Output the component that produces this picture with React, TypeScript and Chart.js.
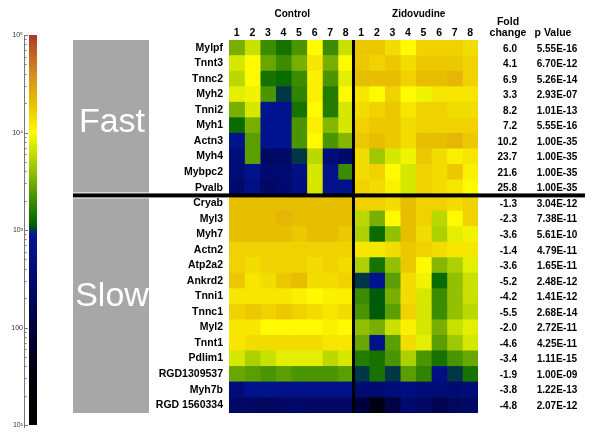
import React, { useEffect, useRef } from 'react';
import { Chart, registerables } from 'chart.js';

Chart.register(...registerables);

const genes = ['Mylpf', 'Tnnt3', 'Tnnc2', 'Myh2', 'Tnni2', 'Myh1', 'Actn3', 'Myh4', 'Mybpc2', 'Pvalb',
  'Cryab', 'Myl3', 'Myh7', 'Actn2', 'Atp2a2', 'Ankrd2', 'Tnni1', 'Tnnc1', 'Myl2', 'Tnnt1', 'Pdlim1',
  'RGD1309537', 'Myh7b', 'RGD 1560334'];

const controlColumns = ['1', '2', '3', '4', '5', '6', '7', '8'];
const zidovudineColumns = ['1', '2', '3', '4', '5', '6', '7', '8'];

// log10 expression, one row per gene
const controlLog10 = [
  [3.5, 3.8, 3.3, 3.15, 3.35, 4.0, 3.3, 3.8],
  [3.85, 4.0, 3.45, 3.3, 3.5, 4.1, 3.5, 4.0],
  [3.75, 4.0, 3.15, 3.1, 3.3, 4.05, 3.35, 3.9],
  [3.9, 3.95, 3.35, 3.0, 3.25, 4.05, 3.2, 4.0],
  [3.5, 3.85, 2.9, 2.85, 3.15, 4.0, 3.2, 3.85],
  [3.1, 3.5, 2.85, 2.85, 3.35, 4.05, 3.55, 3.85],
  [2.85, 3.4, 2.85, 2.85, 3.35, 4.0, 3.35, 3.55],
  [2.6, 3.4, 2.4, 2.45, 3.0, 3.75, 2.6, 2.5],
  [2.6, 2.8, 2.5, 2.55, 2.75, 3.85, 2.8, 3.3],
  [2.5, 2.75, 2.4, 2.5, 2.7, 3.85, 2.8, 2.8],
  [4.3, 4.3, 4.3, 4.3, 4.3, 4.3, 4.3, 4.3],
  [4.3, 4.3, 4.3, 4.35, 4.3, 4.3, 4.3, 4.3],
  [4.3, 4.3, 4.3, 4.3, 4.25, 4.3, 4.3, 4.25],
  [4.2, 4.2, 4.2, 4.2, 4.2, 4.2, 4.2, 4.2],
  [4.2, 4.15, 4.2, 4.2, 4.2, 4.15, 4.2, 4.15],
  [4.25, 4.1, 4.15, 4.25, 4.3, 4.15, 4.15, 4.2],
  [4.1, 4.1, 4.1, 4.1, 4.05, 4.0, 4.05, 4.05],
  [4.2, 4.25, 4.2, 4.25, 4.2, 4.15, 4.1, 4.15],
  [4.1, 4.1, 4.0, 4.0, 4.0, 4.0, 4.05, 4.0],
  [4.1, 4.15, 4.15, 4.15, 4.15, 4.15, 4.1, 4.1],
  [3.85, 3.7, 3.8, 3.9, 3.9, 3.9, 3.75, 3.85],
  [3.45, 3.4, 3.35, 3.4, 3.35, 3.35, 3.35, 3.4],
  [2.6, 2.85, 2.8, 2.8, 2.8, 2.8, 2.8, 2.8],
  [2.4, 2.4, 2.35, 2.4, 2.45, 2.4, 2.4, 2.4],
];

const zidovudineLog10 = [
  [4.25, 4.25, 4.15, 4.0, 4.2, 4.2, 4.2, 4.15],
  [4.25, 4.2, 4.25, 4.15, 4.25, 4.25, 4.25, 4.2],
  [4.3, 4.3, 4.3, 4.2, 4.3, 4.3, 4.35, 4.2],
  [4.1, 4.0, 4.2, 4.0, 3.95, 4.1, 4.1, 4.1],
  [4.15, 4.2, 4.25, 4.1, 4.2, 4.2, 4.15, 4.15],
  [4.2, 4.25, 4.25, 4.15, 4.2, 4.2, 4.2, 4.2],
  [4.25, 4.3, 4.25, 4.15, 4.3, 4.3, 4.35, 4.25],
  [4.15, 3.65, 3.85, 3.95, 4.25, 4.15, 4.05, 4.1],
  [4.15, 4.2, 4.0, 3.85, 4.2, 4.15, 4.25, 4.05],
  [4.2, 4.15, 4.05, 3.85, 4.2, 4.15, 4.1, 4.0],
  [4.2, 4.2, 4.15, 4.3, 4.2, 4.2, 4.15, 4.2],
  [3.75, 3.5, 4.0, 4.3, 4.2, 3.75, 4.0, 4.2],
  [3.7, 3.1, 3.6, 4.3, 4.15, 3.7, 3.9, 3.95],
  [4.1, 4.1, 4.15, 4.25, 4.2, 4.15, 4.1, 4.1],
  [3.7, 3.15, 3.6, 4.25, 4.0, 3.55, 3.7, 3.9],
  [3.0, 2.85, 3.4, 4.15, 3.95, 3.1, 3.6, 3.8],
  [3.3, 3.05, 3.5, 4.15, 3.85, 3.3, 3.6, 3.8],
  [3.35, 3.05, 3.4, 4.2, 3.85, 3.3, 3.6, 3.75],
  [3.6, 3.5, 3.8, 4.05, 3.85, 3.5, 3.8, 3.9],
  [3.45, 2.8, 3.4, 4.15, 3.9, 3.4, 3.65, 3.85],
  [3.2, 3.15, 3.35, 3.7, 3.35, 3.15, 3.35, 3.45],
  [3.0, 3.15, 3.0, 3.4, 3.25, 2.75, 3.0, 3.15],
  [2.55, 2.55, 2.6, 2.7, 2.6, 2.6, 2.55, 2.6],
  [2.0, 1.6, 2.1, 2.5, 2.4, 2.2, 2.35, 2.4],
];

const foldChange = [6.0, 4.1, 6.9, 3.3, 8.2, 7.2, 10.2, 23.7, 21.6, 25.8,
  -1.3, -2.3, -3.6, -1.4, -3.6, -5.2, -4.2, -5.5, -2.0, -4.6, -3.4, -1.9, -3.8, -4.8];

const pValues = ['5.55E-16', '6.70E-12', '5.26E-14', '2.93E-07', '1.01E-13', '5.55E-16', '1.00E-35',
  '1.00E-35', '1.00E-35', '1.00E-35', '3.04E-12', '7.38E-11', '5.61E-10', '4.79E-11', '1.65E-11',
  '2.48E-12', '1.41E-12', '2.68E-14', '2.72E-11', '4.25E-11', '1.11E-15', '1.00E-09', '1.22E-13', '2.07E-12'];

const groupNames = ['Control', 'Zidovudine'];
const sectionNames = ['Fast', 'Slow'];
const fastCount = 10;

const colorbarDecades = [5, 4, 3, 2, 1];
const colorbarLabels = ['10\u2075', '10\u2074', '10\u00b3', '100', '10\u00b9'];
const colorbarMin = 1;
const colorbarMax = 5;

const colorStops: [number, number, number, number][] = [
  [1.0, 0, 0, 0],
  [1.5, 0, 0, 10],
  [2.0, 0, 0, 60],
  [2.5, 0, 10, 110],
  [2.95, 0, 20, 150],
  [3.0, 0, 55, 70],
  [3.06, 0, 100, 0],
  [3.3, 60, 140, 0],
  [3.5, 120, 175, 0],
  [3.8, 200, 225, 0],
  [4.0, 255, 250, 0],
  [4.3, 232, 190, 0],
  [4.6, 215, 140, 30],
  [5.0, 175, 55, 40],
];

function colorFor(v: number): string {
  if (v <= colorStops[0][0]) return `rgb(${colorStops[0][1]},${colorStops[0][2]},${colorStops[0][3]})`;
  for (let i = 1; i < colorStops.length; i++) {
    const a = colorStops[i - 1];
    const b = colorStops[i];
    if (v <= b[0]) {
      const t = (v - a[0]) / (b[0] - a[0]);
      const r = Math.round(a[1] + (b[1] - a[1]) * t);
      const g = Math.round(a[2] + (b[2] - a[2]) * t);
      const bl = Math.round(a[3] + (b[3] - a[3]) * t);
      return `rgb(${r},${g},${bl})`;
    }
  }
  const l = colorStops[colorStops.length - 1];
  return `rgb(${l[1]},${l[2]},${l[3]})`;
}

const FONT = '"Liberation Sans", Arial, Helvetica, sans-serif';
const columnLabels = [...controlColumns, ...zidovudineColumns];

const overlayPlugin = {
  id: 'overlay',
  beforeDatasetsDraw(chart: any) {
    const ctx = chart.ctx as CanvasRenderingContext2D;
    const ys = chart.scales.y;
    const xs = chart.scales.x;
    const area = chart.chartArea;
    const boundary = (ys.getPixelForValue(fastCount - 1) + ys.getPixelForValue(fastCount)) / 2;
    ctx.save();
    // section boxes
    ctx.fillStyle = '#a7a7a7';
    ctx.fillRect(73, area.top, 76, boundary - 3 - area.top);
    ctx.fillRect(73, boundary + 3, 76, area.bottom - boundary - 3);
    ctx.fillStyle = '#ffffff';
    ctx.font = `34px ${FONT}`;
    ctx.textAlign = 'center';
    ctx.textBaseline = 'middle';
    ctx.fillText(sectionNames[0], 112, ys.getPixelForValue(4.8));
    ctx.fillText(sectionNames[1], 112, ys.getPixelForValue(16));

    // colorbar
    const cbTop = 35;
    const cbBottom = 425;
    const cbPix = (v: number) => cbBottom - ((v - colorbarMin) / (colorbarMax - colorbarMin)) * (cbBottom - cbTop);
    const grad = ctx.createLinearGradient(0, cbBottom, 0, cbTop);
    colorStops.forEach((s) => {
      grad.addColorStop((s[0] - colorbarMin) / (colorbarMax - colorbarMin), `rgb(${s[1]},${s[2]},${s[3]})`);
    });
    ctx.fillStyle = grad;
    ctx.fillRect(29, cbTop, 8, cbBottom - cbTop);
    ctx.strokeStyle = '#777';
    ctx.lineWidth = 1;
    ctx.beginPath();
    ctx.moveTo(24.5, cbTop);
    ctx.lineTo(24.5, cbBottom + 3);
    ctx.stroke();
    for (let d = colorbarMin; d < colorbarMax; d++) {
      for (let m = 2; m <= 9; m++) {
        const yy = Math.round(cbPix(d + Math.log10(m))) + 0.5;
        ctx.beginPath();
        ctx.moveTo(24.5, yy);
        ctx.lineTo(26.5, yy);
        ctx.stroke();
      }
    }
    ctx.fillStyle = '#333';
    ctx.font = `7px ${FONT}`;
    ctx.textAlign = 'right';
    colorbarDecades.forEach((d, i) => {
      const yy = Math.round(cbPix(d)) + 0.5;
      ctx.beginPath();
      ctx.moveTo(24.5, yy);
      ctx.lineTo(28, yy);
      ctx.stroke();
      ctx.fillText(colorbarLabels[i], 23, yy);
    });

    // headers
    ctx.fillStyle = '#000';
    ctx.font = `bold 10px ${FONT}`;
    ctx.textAlign = 'center';
    ctx.fillText(groupNames[0], (xs.getPixelForValue(0) + xs.getPixelForValue(8)) / 2 + 1, 14);
    ctx.fillText(groupNames[1], (xs.getPixelForValue(8) + xs.getPixelForValue(16)) / 2 + 3, 14);
    ctx.font = `bold 10.5px ${FONT}`;
    ctx.fillText('Fold', 508, 22);
    ctx.fillText('change', 508, 33);
    ctx.fillText('p Value', 553, 33);
    ctx.restore();
  },
  afterDatasetsDraw(chart: any) {
    const ctx = chart.ctx as CanvasRenderingContext2D;
    const ys = chart.scales.y;
    const xs = chart.scales.x;
    const area = chart.chartArea;
    const boundary = (ys.getPixelForValue(fastCount - 1) + ys.getPixelForValue(fastCount)) / 2;
    ctx.save();
    ctx.fillStyle = '#000';
    const vx = xs.getPixelForValue(8);
    ctx.fillRect(vx - 1.5, area.top, 3, area.bottom - area.top);
    ctx.fillRect(73, boundary - 2, 512, 4);

    ctx.font = `bold 10px ${FONT}`;
    ctx.textBaseline = 'middle';
    genes.forEach((_, i) => {
      const yy = ys.getPixelForValue(i) + 1;
      ctx.textAlign = 'right';
      ctx.fillText(foldChange[i].toFixed(1), 517, yy);
      ctx.textAlign = 'center';
      ctx.fillText(pValues[i], 557, yy);
    });
    ctx.restore();
  },
};

export default function App() {
  const ref = useRef<HTMLCanvasElement | null>(null);

  useEffect(() => {
    document.body.style.margin = '0';
    if (!ref.current) return;
    const datasets = columnLabels.map((label, j) => {
      const isControl = j < controlColumns.length;
      const colIdx = isControl ? j : j - controlColumns.length;
      const values = (isControl ? controlLog10 : zidovudineLog10).map((row) => row[colIdx]);
      return {
        label: `${isControl ? groupNames[0] : groupNames[1]} ${label}`,
        data: genes.map(() => 1),
        backgroundColor: values.map((v) => colorFor(v)),
        borderWidth: 0,
        barPercentage: 1,
        categoryPercentage: 1,
      };
    });

    const chart = new Chart(ref.current, {
      type: 'bar',
      data: { labels: genes, datasets },
      plugins: [overlayPlugin],
      options: {
        indexAxis: 'y',
        animation: false,
        responsive: false,
        devicePixelRatio: 1,
        layout: { padding: { left: 149, right: 122, top: 25, bottom: 22 } },
        plugins: { legend: { display: false }, tooltip: { enabled: false } },
        scales: {
          x: {
            type: 'linear',
            position: 'top',
            stacked: true,
            min: 0,
            max: 16,
            grid: { display: false, drawTicks: false },
            border: { display: false },
            afterBuildTicks: (axis: any) => {
              axis.ticks = columnLabels.map((_, i) => ({ value: i + 0.5 }));
            },
            afterFit: (axis: any) => {
              axis.height = 15;
            },
            ticks: {
              autoSkip: false,
              maxRotation: 0,
              padding: 1,
              color: '#000',
              font: { family: FONT, size: 10.5, weight: 'bold' },
              callback: (_v: any, i: number) => columnLabels[i],
            },
          },
          y: {
            type: 'category',
            stacked: true,
            grid: { display: false, drawTicks: false },
            border: { display: false },
            afterFit: (axis: any) => {
              axis.width = 80;
            },
            ticks: {
              autoSkip: false,
              padding: 6,
              color: '#000',
              font: { family: FONT, size: 10.5, weight: 'bold' },
            },
          },
        },
      },
    } as any);
    return () => chart.destroy();
  }, []);

  return (
    <div style={{ width: 600, height: 435 }}>
      <canvas ref={ref} width={600} height={435} style={{ display: 'block' }} />
    </div>
  );
}
